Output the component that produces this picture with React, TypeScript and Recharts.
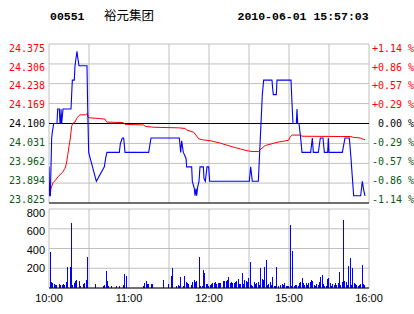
import React from "react";
import { ComposedChart, Line, Bar, XAxis, YAxis, CartesianGrid, ReferenceLine } from "recharts";

const stockCode = "00551";
const stockName = "裕元集团";
const stamp = "2010-06-01 15:57:03";

const prevClose = 24.1;
const priceTicks = [24.375, 24.306, 24.238, 24.169, 24.1, 24.031, 23.962, 23.894, 23.825];
const pctLabels = ["+1.14 %", "+0.86 %", "+0.57 %", "+0.29 %", "\u00a00.00 %", "-0.29 %", "-0.57 %", "-0.86 %", "-1.14 %"];
const timeTicks = [0, 30, 60, 90, 120, 150, 180, 210, 240];
const timeLabels: Record<number, string> = { 0: "10:00", 60: "11:00", 120: "12:00", 180: "15:00", 240: "16:00" };
const volTicks = [0, 200, 400, 600, 800];

// minutes since 10:00 (lunch break removed), price
const pricePoints: [number, number][] = [
  [0, 23.95], [0.5, 23.85], [1, 23.85], [1.5, 23.95], [2, 24.05], [2.5, 24.07], [3.5, 24.1],
  [6, 24.1], [6.5, 24.15], [7.75, 24.15], [8.25, 24.1], [8.75, 24.1], [9, 24.15], [9.5, 24.1],
  [10.5, 24.15], [16.5, 24.15], [17, 24.2], [17.5, 24.25], [19, 24.25], [19.5, 24.3], [21, 24.35],
  [21.5, 24.33], [22.5, 24.3], [28.5, 24.3], [29, 24.16], [29.75, 24.0], [35.5, 23.9], [41.5, 23.95],
  [42.5, 23.98], [43.5, 24.0], [52.75, 24.0], [53.5, 24.03], [55, 24.05], [56, 24.05], [57, 24.0],
  [74.75, 24.0], [76.5, 24.05], [97.75, 24.05], [98.75, 24.0], [99.5, 24.04], [100.75, 24.0],
  [102.75, 23.98], [103.25, 23.95], [107, 23.95], [107.5, 23.9], [109, 23.875], [109.5, 23.85],
  [110.25, 23.875], [110.75, 23.85], [111.5, 23.88], [112.5, 23.9], [113.25, 23.95], [115.75, 23.95],
  [116.25, 23.91], [117.25, 23.9], [118, 23.93], [118.5, 23.95], [119.75, 23.95], [120.5, 23.9],
  [150.25, 23.9], [151.25, 23.95], [152, 23.92], [152.5, 23.9], [157, 23.9], [158, 24.0], [159, 24.1],
  [160, 24.2], [161, 24.25], [167.25, 24.25], [167.75, 24.22], [168.25, 24.2], [170.5, 24.2],
  [171, 24.25], [181.5, 24.25], [182.25, 24.17], [183, 24.1], [185.5, 24.1], [186, 24.15], [186.5, 24.1],
  [187.5, 24.1], [188.75, 24.05], [189.75, 24.0], [196.25, 24.0], [197.5, 24.05], [198.25, 24.0],
  [202, 24.0], [203.5, 24.05], [205.5, 24.05], [206.5, 24.0], [209, 24.0], [209.5, 24.05], [210, 24.0],
  [220, 24.0], [222, 24.05], [225.25, 24.05], [226.5, 23.98], [227.25, 23.93], [228.5, 23.85],
  [233.75, 23.85], [235, 23.9], [236, 23.87], [237, 23.85],
];

const avgPoints: [number, number][] = [
  [0.75, 23.85], [1.5, 23.875], [3, 23.895], [5, 23.905], [7.5, 23.92], [10, 23.93], [12, 23.945],
  [13, 23.96], [14, 23.99], [15, 24.02], [16, 24.05], [17, 24.09], [17.75, 24.1], [19.5, 24.105],
  [21, 24.12], [23.25, 24.13], [27.5, 24.13], [28.75, 24.135], [29.5, 24.12], [38, 24.117],
  [42, 24.115], [43.25, 24.105], [55.75, 24.103], [57, 24.097], [71, 24.095], [72.25, 24.09],
  [78.5, 24.087], [97, 24.085], [102, 24.083], [103.5, 24.077], [108.5, 24.07], [111, 24.055],
  [112.25, 24.047], [116, 24.043], [121.5, 24.04], [128.5, 24.032], [133.5, 24.025], [138.5, 24.018],
  [143.5, 24.012], [148.5, 24.006], [152.25, 24.003], [157.25, 24.003], [158.5, 24.01],
  [162.25, 24.024], [167.25, 24.03], [171, 24.035], [177.25, 24.04], [179.75, 24.042], [181, 24.055],
  [182.5, 24.06], [188.5, 24.06], [189.75, 24.056], [218.5, 24.055], [226, 24.055], [228.5, 24.052],
  [233.5, 24.05], [236, 24.045], [237, 24.044],
];

// minute, volume
const volPoints: [number, number][] = [
  [1, 366], [2, 61], [3, 54], [4, 41], [5, 34], [6, 27], [8, 41], [9, 27], [10, 27], [11, 41],
  [12, 27], [13, 61], [14, 210], [16, 210], [17, 654], [18, 34], [19, 47], [20, 68], [21, 81],
  [23, 71], [24, 24], [26, 41], [27, 54], [28, 81], [29, 312], [35, 41], [41, 24], [42, 34],
  [43, 176], [44, 74], [45, 24], [47, 24], [51, 24], [53, 24], [56, 34], [57, 145], [58, 125],
  [71, 24], [72, 47], [73, 68], [74, 44], [75, 44], [77, 44], [78, 44], [86, 85], [90, 44],
  [92, 125], [93, 206], [96, 24], [97, 34], [98, 24], [99, 115], [101, 24], [102, 125], [103, 61],
  [104, 54], [105, 41], [107, 34], [108, 61], [109, 81], [110, 61], [111, 74], [113, 312], [114, 24],
  [115, 24], [116, 183], [117, 152], [118, 41], [119, 41], [120, 24], [121, 34], [122, 41], [123, 47],
  [124, 47], [125, 61], [126, 41], [127, 47], [128, 47], [129, 47], [131, 74], [132, 68], [133, 74],
  [134, 81], [135, 112], [136, 47], [137, 61], [138, 54], [139, 54], [140, 61], [141, 68], [142, 95],
  [143, 41], [144, 44], [145, 152], [146, 41], [147, 85], [148, 68], [149, 61], [150, 101], [151, 267],
  [152, 34], [153, 24], [154, 61], [155, 41], [156, 47], [157, 61], [158, 34], [159, 206], [160, 95],
  [161, 81], [162, 216], [163, 287], [164, 34], [165, 41], [166, 61], [167, 34], [168, 115], [169, 24],
  [170, 24], [171, 216], [172, 24], [174, 34], [175, 41], [176, 34], [177, 47], [178, 24], [179, 24],
  [180, 24], [181, 642], [182, 24], [183, 379], [184, 24], [185, 34], [186, 34], [187, 24], [188, 47],
  [189, 61], [190, 101], [191, 54], [192, 34], [193, 47], [194, 34], [195, 47], [196, 61], [197, 81],
  [198, 68], [199, 34], [200, 24], [201, 41], [202, 34], [203, 61], [204, 115], [205, 135], [206, 41],
  [207, 24], [208, 24], [209, 95], [210, 101], [211, 47], [212, 24], [213, 41], [214, 34], [215, 47],
  [216, 34], [217, 54], [218, 162], [219, 34], [220, 61], [221, 693], [222, 74], [223, 61], [224, 34],
  [225, 226], [226, 304], [227, 34], [228, 203], [229, 54], [230, 41], [231, 34], [232, 24], [233, 34],
  [234, 41], [235, 236], [236, 41], [237, 34],
];

const priceData = pricePoints.map(([t, p]) => ({ t, p }));
const avgData = avgPoints.map(([t, p]) => ({ t, p }));
const volData = volPoints.map(([t, v]) => ({ t, v }));

const RED = "#ff0000";
const BLUE = "#0000ff";
const GREEN = "#0a5a14";
const GRID = "#c0c0c0";
const MONO = "DejaVu Sans Mono";

function labelColor(v: number) {
  if (Math.abs(v - prevClose) < 1e-6) return "#000";
  return v > prevClose ? RED : GREEN;
}

// labels slide inside the plot near top/bottom edges
function edgeShift(v: number) {
  const frac = (24.375 - v) / 0.55;
  return 4 - 7.5 * frac;
}

const PriceTick = (props: any) => {
  const { x, y, payload } = props;
  const v = payload.value;
  return (
    <text x={x} y={y + edgeShift(v)} dy="0.355em" textAnchor="end" fill={labelColor(v)} fontFamily={MONO} fontSize={10}>
      {v.toFixed(3)}
    </text>
  );
};

const PctTick = (props: any) => {
  const { x, y, payload } = props;
  const v = payload.value;
  const i = priceTicks.indexOf(v);
  return (
    <text x={x} y={y + edgeShift(v)} dy="0.355em" textAnchor="start" fill={labelColor(v)} fontFamily={MONO} fontSize={10}>
      {pctLabels[i]}
    </text>
  );
};

const VolTick = (props: any) => {
  const { x, y, payload } = props;
  const v = payload.value;
  if (v === 0) return null;
  return (
    <text x={x} y={y + ((v - 200) / 600) * 3.7} dy="0.355em" textAnchor="end" fill="#000" fontFamily="Liberation Sans" fontSize={11}>
      {v}
    </text>
  );
};

// 1px crisp volume stick
const VolBar = (props: any) => {
  const { x, y, width, height } = props;
  if (!height || height <= 0) return null;
  const cx = Math.round(x + width / 2 - 0.5);
  return <rect x={cx} y={y} width={1} height={height} fill={BLUE} shapeRendering="crispEdges" />;
};

export default function App() {
  return (
    <div style={{ position: "absolute", left: 0, top: 0, width: 414, height: 314, background: "#fff" }}>
      <svg width={414} height={30} style={{ position: "absolute", left: 0, top: 0 }}>
        <text x={50} y={20} fontFamily="Liberation Mono" fontWeight="bold" fontSize={11.5} fill="#000">{stockCode}</text>
        <text x={104} y={19.5} fontFamily="Noto Sans CJK SC" fontSize={12.5} fill="#000">{stockName}</text>
        <text x={237.5} y={20} fontFamily="Liberation Mono" fontWeight="bold" fontSize={11.5} fill="#000">{stamp}</text>
      </svg>

      <div style={{ position: "absolute", left: 0, top: 0 }}>
        <ComposedChart width={414} height={204} margin={{ top: 44, right: 0, bottom: 1, left: 0 }}>
          <CartesianGrid stroke={GRID} />
          <XAxis type="number" dataKey="t" domain={[0, 240]} ticks={timeTicks} interval={0} hide allowDataOverflow />
          <YAxis domain={[23.825, 24.375]} ticks={priceTicks} interval={0} width={49} axisLine={false} tickLine={false} tickSize={4} tickMargin={0} tick={<PriceTick />} allowDataOverflow />
          <YAxis yAxisId="r" orientation="right" domain={[23.825, 24.375]} ticks={priceTicks} interval={0} width={45} axisLine={false} tickLine={false} tickSize={3} tickMargin={0} tick={<PctTick />} allowDataOverflow />
          <ReferenceLine y={prevClose} stroke="#000" />
          <ReferenceLine y={23.825} stroke="#000" />
          <Line data={avgData} dataKey="p" type="linear" stroke={RED} strokeWidth={1} dot={false} isAnimationActive={false} />
          <Line data={priceData} dataKey="p" type="linear" stroke={BLUE} strokeWidth={1.1} dot={false} isAnimationActive={false} />
        </ComposedChart>
      </div>

      <div style={{ position: "absolute", left: 0, top: 205 }}>
        <ComposedChart width={414} height={109} data={volData} margin={{ top: 4, right: 45, bottom: 0, left: 0 }}>
          <CartesianGrid stroke={GRID} />
          <XAxis
            type="number"
            dataKey="t"
            domain={[0, 240]}
            ticks={timeTicks}
            interval={0}
            height={26}
            tickLine={false}
            tickSize={4}
            tickMargin={2}
            axisLine={{ stroke: "#000" }}
            tickFormatter={(t: number) => timeLabels[t] ?? ""}
            tick={{ fill: "#000", fontSize: 11, fontFamily: "Liberation Sans" }}
          />
          <YAxis domain={[0, 800]} ticks={volTicks} interval={0} width={49} axisLine={false} tickLine={false} tickSize={4} tickMargin={0} tick={<VolTick />} />
          <Bar dataKey="v" fill={BLUE} barSize={1} shape={<VolBar />} isAnimationActive={false} />
        </ComposedChart>
      </div>
    </div>
  );
}
